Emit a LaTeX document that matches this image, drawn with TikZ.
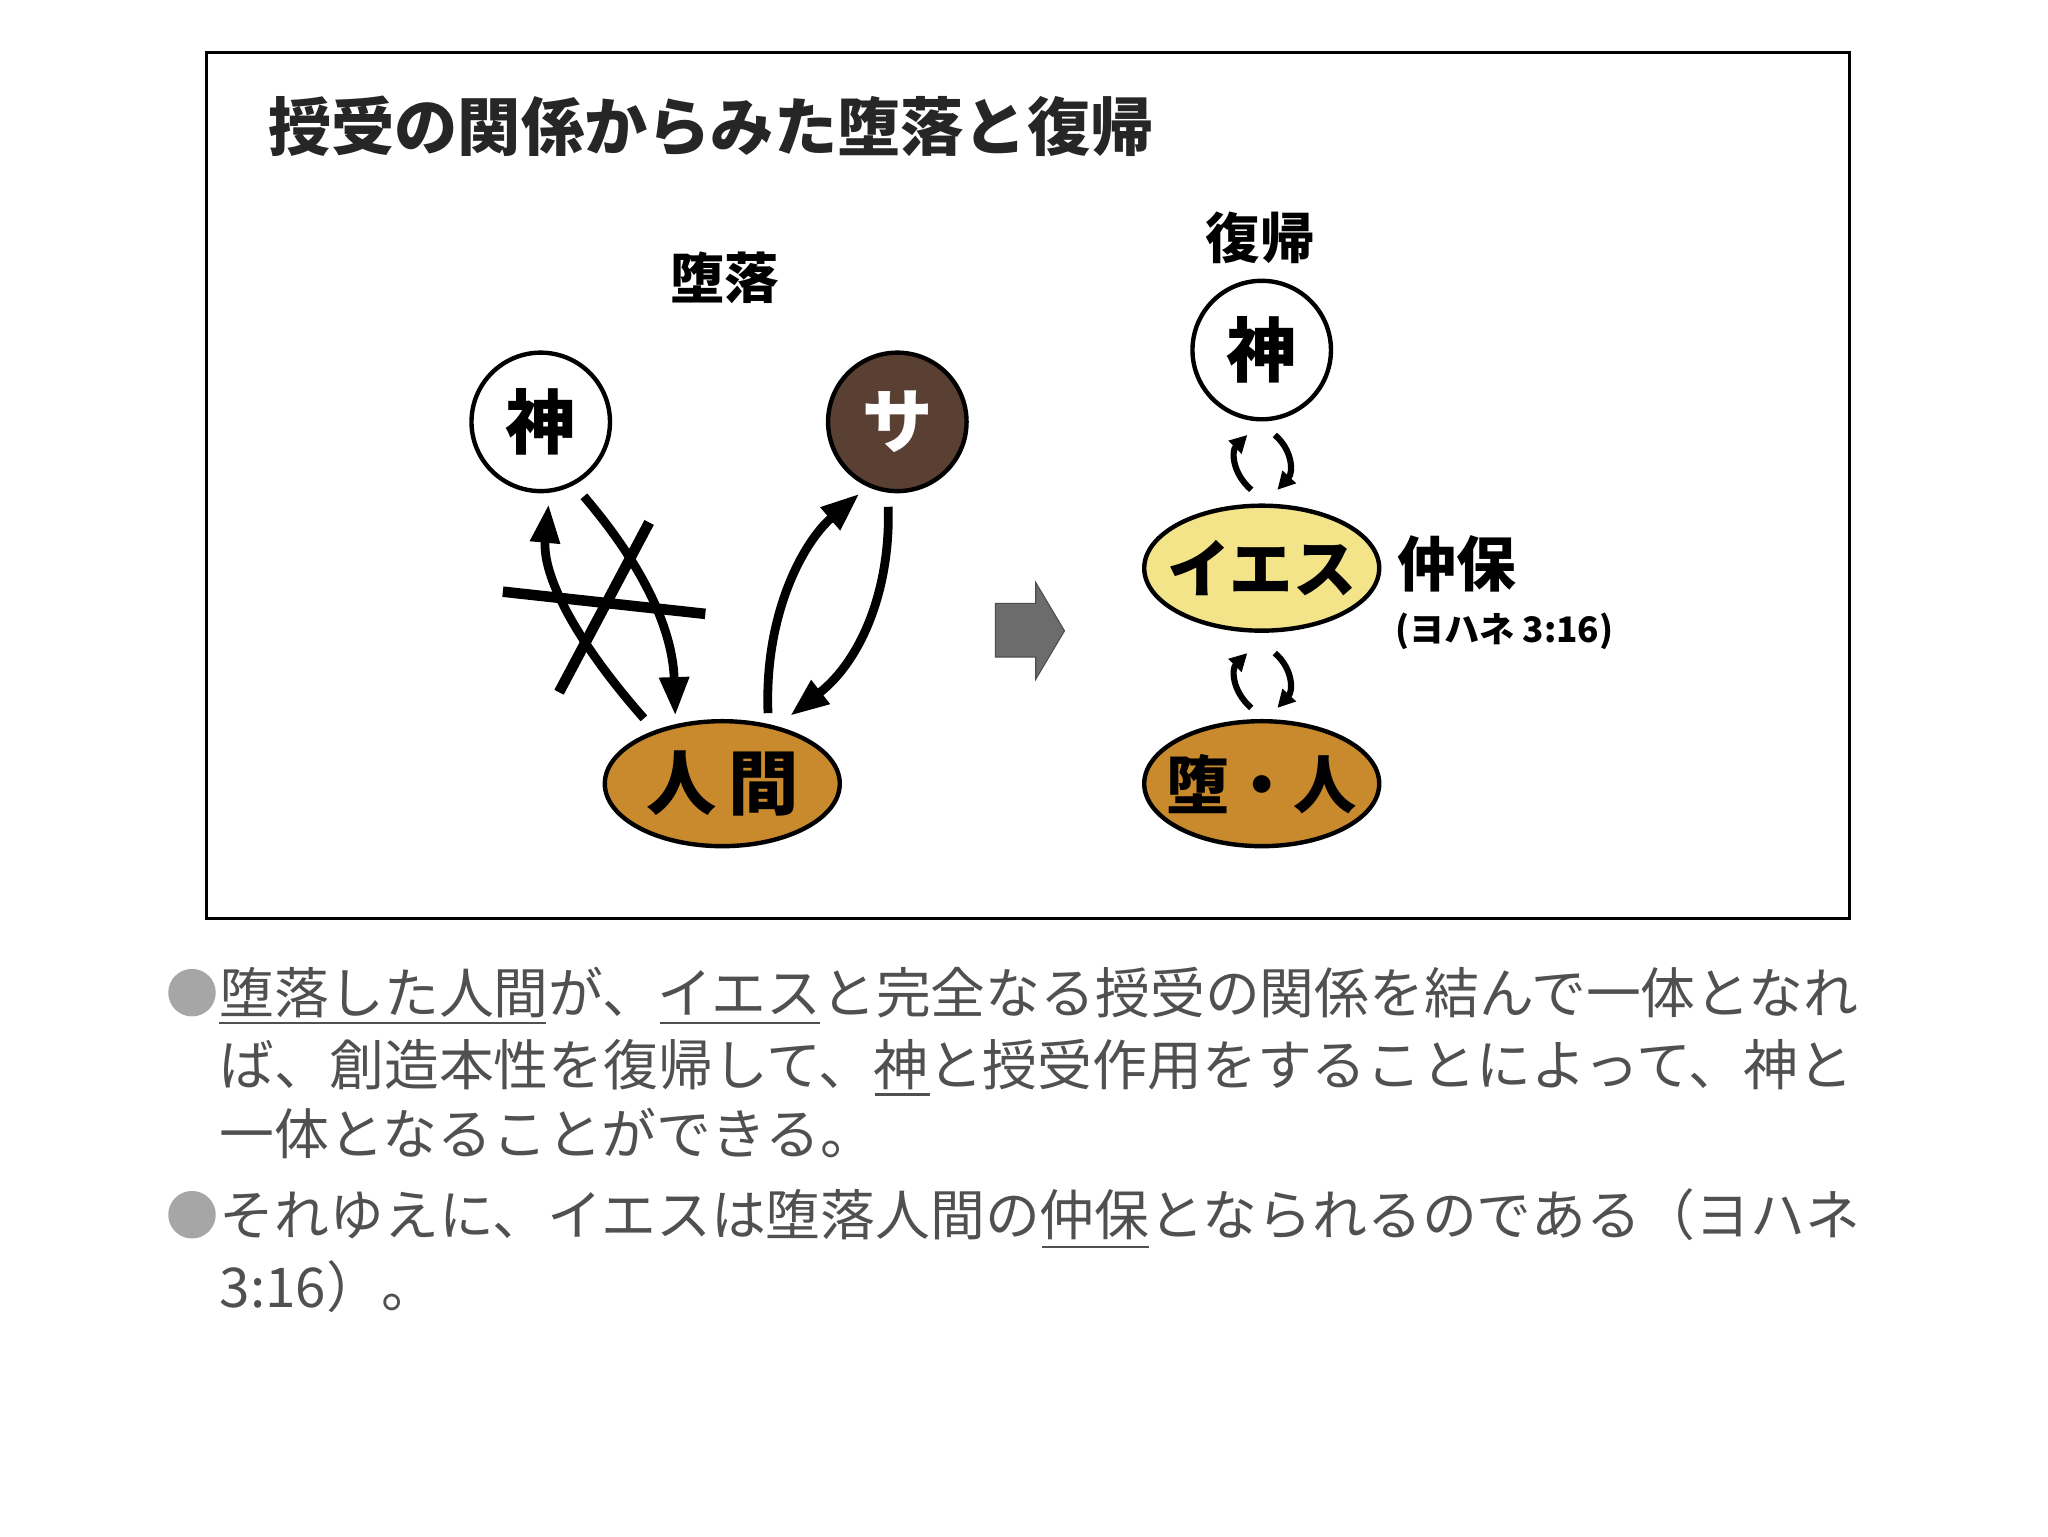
\documentclass[tikz,border=0pt]{standalone}
\usepackage{fontspec}
\setmainfont{Noto Sans CJK JP}
\usetikzlibrary{arrows.meta,shapes.geometric}
\definecolor{brownA}{HTML}{C98A2E}
\definecolor{darkS}{HTML}{5A3F33}
\definecolor{yel}{HTML}{F3E48A}
\definecolor{txt}{HTML}{505050}
\tikzset{
 circ/.style={circle,draw=black,line width=2.5pt,minimum size=2.77cm,inner sep=0pt,font=\fontsize{40}{40}\selectfont\bfseries},
 ell/.style={ellipse,draw=black,line width=2.5pt,minimum width=4.7cm,minimum height=2.5cm,inner sep=-12pt,font=\fontsize{36}{36}\selectfont\bfseries},
 arr/.style={line width=5pt,-{Triangle[length=22pt,width=16pt]}},
 bar/.style={line width=6pt},
 small/.style={line width=3.5pt,-{Triangle[length=10pt,width=10pt]}},
 lbl/.style={font=\fontsize{31}{31}\selectfont\bfseries},
 body/.style={anchor=west,text=txt,font=\fontsize{31.2}{31}\selectfont,inner sep=0pt},
 bul/.style={circle,fill=gray!70,minimum size=0.95cm,inner sep=0pt},
 ul/.style={line width=1.2pt,draw=txt}
}
\begin{document}
\begin{tikzpicture}[x=0.02612cm,y=-0.02612cm]
\useasboundingbox (0,0) rectangle (1568,1176);
\fill[white] (0,0) rectangle (1568,1176);
\draw[line width=1.5pt] (158,40) rectangle (1416,703);
\node[anchor=west,inner sep=0pt,font=\fontsize{36}{36}\selectfont\bfseries,text=black!85] (title) at (205,97) {授受の関係からみた堕落と復帰};
% left
\node[lbl] (fall) at (555,213) {堕落};
\node[circ,fill=white] (G) at (414,323) {神};
\node[circ,fill=darkS,text=white] (S) at (687,323) {サ};
\node[ell,fill=brownA,font=\fontsize{40}{40}\selectfont\bfseries] (M) at (553,600) {人\,間};
\coordinate (a1) at (493,550); \coordinate (a2) at (420,386);
\coordinate (b1) at (447,380); \coordinate (b2) at (517,548);
\draw[arr] (a1) .. controls (440,490) and (415,440) .. (a2);
\draw[arr] (b1) .. controls (490,430) and (515,480) .. (b2);
\coordinate (c1) at (385,453); \coordinate (c2) at (540,470);
\coordinate (d1) at (428,530); \coordinate (d2) at (497,400);
\draw[bar] (c1) -- (c2);
\draw[bar] (d1) -- (d2);
\coordinate (e1) at (588,546); \coordinate (e2) at (658,378);
\coordinate (f1) at (680,388); \coordinate (f2) at (605,548);
\draw[arr] (e1) .. controls (585,470) and (615,415) .. (e2);
\draw[arr] (f1) .. controls (682,450) and (660,505) .. (f2);
% gray arrow
\draw[fill=gray!85!black,draw=gray!60!black,line width=0.6pt] (762,462) -- (793,462) -- (793,446) -- (815,483) -- (793,520) -- (793,503) -- (762,503) -- cycle;
\coordinate (ga) at (788,483);
% right
\node[lbl] (rest) at (965,182) {復帰};
\node[circ,fill=white] (G2) at (966,268) {神};
\node[ell,fill=yel] (J) at (966,435) {イエス};
\node[ell,fill=brownA] (F) at (966,600) {堕・人};
\node[anchor=west,lbl,font=\fontsize{34}{34}\selectfont\bfseries] (med) at (1065,432) {仲保};
\node[anchor=west,inner sep=0pt,font=\fontsize{20}{20}\selectfont\bfseries] (ref) at (1068,483) {(ヨハネ 3:16)};
\draw[small] (958,375) .. controls (943,362) and (943,345) .. (955,333);
\draw[small] (976,333) .. controls (990,345) and (990,362) .. (978,375);
\draw[small] (958,542) .. controls (943,529) and (943,512) .. (955,500);
\draw[small] (976,500) .. controls (990,512) and (990,529) .. (978,542);
% body text
\node[bul] (b1n) at (147,760) {};
\node[body] (l1) at (168,760) {堕落した人間が、イエスと完全なる授受の関係を結んで一体となれ};
\node[body] (l2) at (168,815) {ば、創造本性を復帰して、神と授受作用をすることによって、神と};
\node[body] (l3) at (168,868) {一体となることができる。};
\node[bul] (b2n) at (147,930) {};
\node[body] (l4) at (168,930) {それゆえに、イエスは堕落人間の仲保となられるのである（ヨハネ};
\node[body] (l5) at (168,985) {3:16）。};
\draw[ul] (168,783) -- (418,783);
\draw[ul] (505,783) -- (628,783);
\draw[ul] (670,838) -- (712,838);
\draw[ul] (798,955) -- (880,955);
\end{tikzpicture}
\end{document}
